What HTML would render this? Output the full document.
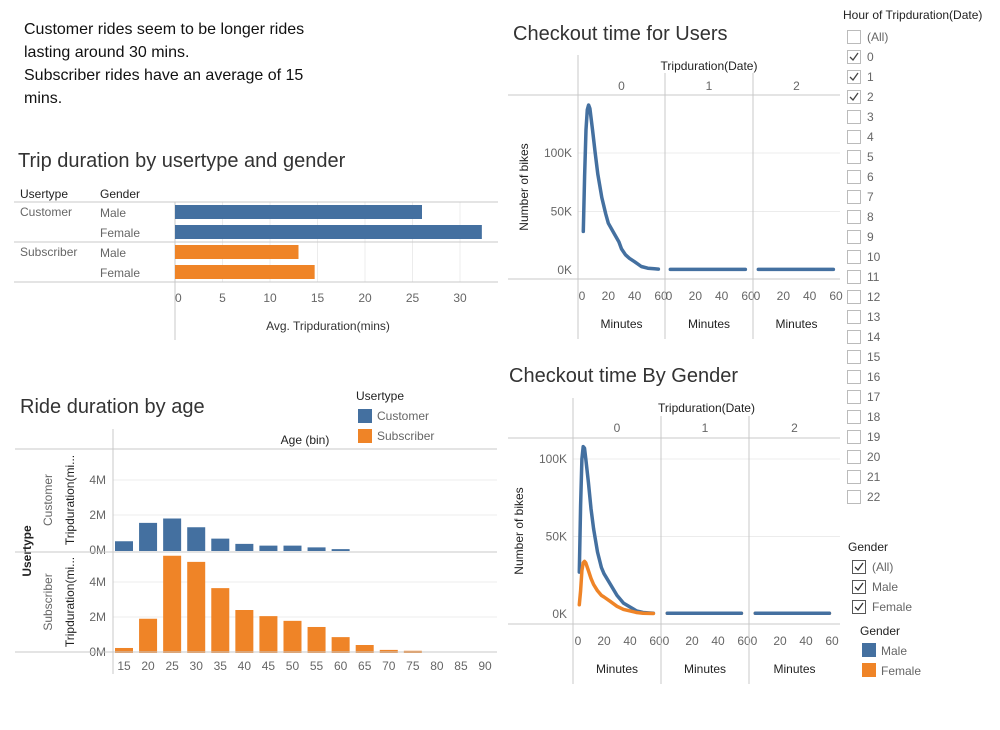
<!DOCTYPE html>
<html><head><meta charset="utf-8"><style>
body{margin:0;background:#fff;width:1000px;height:725px;overflow:hidden;font-family:"Liberation Sans",sans-serif}
svg text{font-family:"Liberation Sans",sans-serif}
</style></head><body>
<svg id="s" width="1000" height="725" xmlns="http://www.w3.org/2000/svg">
<g font-size="16" fill="#111">
<text x="24" y="34">Customer rides seem to be longer rides</text>
<text x="24" y="57">lasting around 30 mins.</text>
<text x="24" y="80">Subscriber rides have an average of 15</text>
<text x="24" y="103">mins.</text>
</g>
<text x="18" y="167" font-size="20" fill="#333">Trip duration by usertype and gender</text>
<text x="20" y="413" font-size="20" fill="#333">Ride duration by age</text>
<text x="513" y="40" font-size="20" fill="#333">Checkout time for Users</text>
<text x="509" y="382" font-size="20" fill="#333">Checkout time By Gender</text>
<g id="g1"></g><g id="g2"></g><g id="g3"></g><g id="g4"></g><g id="g5"></g>
</svg>
<script>
const NS='http://www.w3.org/2000/svg';
function mk(p,t,a,txt){const e=document.createElementNS(NS,t);for(const k in a)e.setAttribute(k,a[k]);if(txt!==undefined)e.textContent=txt;p.appendChild(e);return e;}
const BLUE='#4470a0',ORANGE='#ef8427',GR='#c8c8c8',LG='#ececec',TX='#666';

const c1Users=['Customer','Customer','Subscriber','Subscriber'];
const c1Genders=['Male','Female','Male','Female'];
const c1Values=[26.0,32.3,13.0,14.7];
const c1Ticks=[0,5,10,15,20,25,30];
const ageBins=[15,20,25,30,35,40,45,50,55,60,65,70,75,80,85,90];
const ageCustomer=[0.5,1.55,1.8,1.3,0.65,0.35,0.25,0.25,0.15,0.05,0,0,0,0,0,0];
const ageSubscriber=[0.23,1.9,5.5,5.15,3.65,2.4,2.05,1.78,1.43,0.85,0.4,0.12,0.07,0,0,0];
const ageTicks=[0,2,4];
const minutes=[1,2,3,4,5,6,8,10,12,15,18,20,25,28,30,33,36,40,45,50,55,58];
const usersCount=[33,80,120,137,141,138,120,100,82,62,48,40,30,24,18,13,10,7,3,1.5,1,0.8];
const gMinutes=[1,2,3,4,5,6,8,10,12,15,18,20,25,30,35,40,45,50,58];
const maleCount=[27,70,100,108,107,100,85,68,55,40,30,26,19,12,7,4.5,2,1,0.5];
const femaleCount=[6,15,28,33,34,33,28,23,19,15,12,11,8,5,3,2,1,0.5,0.3];
const kTicks=[0,50,100];
const minTicks=[0,20,40,60];
const panes=['0','1','2'];

(function(){const g=document.getElementById('g1');
const x=v=>175+v*9.5;
mk(g,'text',{x:20,y:198,'font-size':12,fill:'#222'},'Usertype');
mk(g,'text',{x:100,y:198,'font-size':12,fill:'#222'},'Gender');
c1Ticks.forEach(t=>{if(t>0){mk(g,'line',{x1:x(t),x2:x(t),y1:202,y2:282,stroke:LG});}
const tt=mk(g,'text',{x:x(t),y:302,'font-size':12,fill:TX,'text-anchor':t==0?'start':'middle'},t);
});
[202,242,282].forEach(y=>mk(g,'line',{x1:14,x2:498,y1:y,y2:y,stroke:GR}));
mk(g,'line',{x1:175,x2:175,y1:202,y2:340,stroke:GR});
c1Values.forEach((v,i)=>{const y=205+i*20;
const r=mk(g,'rect',{x:175,y:y,width:x(v)-175,height:14,fill:c1Users[i]=='Customer'?BLUE:ORANGE});


mk(g,'text',{x:100,y:y+12,'font-size':12,fill:TX},c1Genders[i]);
if(i%2==0)mk(g,'text',{x:20,y:y+11,'font-size':12,fill:TX},c1Users[i]);});
mk(g,'text',{x:328,y:330,'font-size':12,fill:'#333','text-anchor':'middle'},'Avg. Tripduration(mins)');
})();

(function(){const g=document.getElementById('g2');
const x=i=>124+i*24.07;
mk(g,'text',{x:356,y:400,'font-size':12,fill:'#222'},'Usertype');
mk(g,'rect',{x:358,y:409,width:14,height:14,fill:BLUE});
mk(g,'text',{x:377,y:420,'font-size':12,fill:TX},'Customer');
mk(g,'rect',{x:358,y:429,width:14,height:14,fill:ORANGE});
mk(g,'text',{x:377,y:440,'font-size':12,fill:TX},'Subscriber');
mk(g,'text',{x:305,y:444,'font-size':12,fill:'#222','text-anchor':'middle'},'Age (bin)');
const panesDef=[[ageCustomer,550,BLUE,'Customer'],[ageSubscriber,652,ORANGE,'Subscriber']];
panesDef.forEach(([vals,base,col,name])=>{const y=v=>base-v*17.5;
ageTicks.forEach(t=>{if(t>0)mk(g,'line',{x1:113,x2:497,y1:y(t),y2:y(t),stroke:LG});
mk(g,'text',{x:106,y:y(t)+4,'font-size':12,fill:TX,'text-anchor':'end'},t+'M');});
vals.forEach((v,i)=>{if(v<=0)return;const r=mk(g,'rect',{x:x(i)-9,y:y(v),width:18,height:base+1-y(v),fill:col});

});
const cy=base-50;
mk(g,'text',{x:0,y:0,'font-size':12,fill:TX,'text-anchor':'middle',transform:`translate(52,${cy}) rotate(-90)`},name);
mk(g,'text',{x:0,y:0,'font-size':12,fill:'#222','text-anchor':'middle',transform:`translate(74,${cy}) rotate(-90)`},'Tripduration(mi...');
});
mk(g,'text',{x:0,y:0,'font-size':12,fill:'#222','font-weight':'bold','text-anchor':'middle',transform:'translate(31,551) rotate(-90)'},'Usertype');
[449,552,652].forEach(yy=>mk(g,'line',{x1:15,x2:497,y1:yy,y2:yy,stroke:GR}));
mk(g,'line',{x1:113,x2:113,y1:429,y2:674,stroke:GR});
ageBins.forEach((b,i)=>{const t=mk(g,'text',{x:x(i),y:670,'font-size':12,fill:TX,'text-anchor':'middle'},b);
});
})();

function lineChart(g,opt){
const {top,bot,zero,pxK,paneX,x0,x60,series,ylab,titleY}=opt;
const y=v=>zero-v*pxK;
mk(g,'text',{x:(paneX[0]+paneX[3])/2,y:titleY,'font-size':12,fill:'#222','text-anchor':'middle'},'Tripduration(Date)');
panes.forEach((p,i)=>mk(g,'text',{x:(paneX[i]+paneX[i+1])/2,y:titleY+20,'font-size':12,fill:TX,'text-anchor':'middle'},p));
kTicks.forEach(t=>{if(t>0)mk(g,'line',{x1:paneX[0],x2:paneX[3],y1:y(t),y2:y(t),stroke:LG});
mk(g,'text',{x:paneX[0]-6,y:y(t)+4,'font-size':12,fill:TX,'text-anchor':'end'},t+'K');});
mk(g,'line',{x1:508,x2:paneX[3],y1:top,y2:top,stroke:GR});
mk(g,'line',{x1:508,x2:paneX[3],y1:bot,y2:bot,stroke:GR});
paneX.slice(0,3).forEach((px,i)=>{mk(g,'line',{x1:px,x2:px,y1:i==0?top-40:top-22,y2:bot+60,stroke:GR});
const ox=x0+(px-paneX[0]);const sc=(x60-x0)/60;
minTicks.forEach(m=>mk(g,'text',{x:ox+m*sc,y:bot+21,'font-size':12,fill:TX,'text-anchor':'middle'},m));
mk(g,'text',{x:(px+paneX[i+1])/2,y:bot+49,'font-size':12,fill:'#222','text-anchor':'middle'},'Minutes');
const ser=i==0?series:series.slice().reverse();
ser.forEach(([xs,vs,col,nm])=>{let d;
if(i==0)d=xs.map((m,j)=>(j?'L':'M')+(ox+m*sc).toFixed(1)+','+y(vs[j]).toFixed(1)).join('');
else d='M'+(ox+1*sc)+','+y(0.5)+'L'+(ox+58*sc)+','+y(0.5);
const pth=mk(g,'path',{d:d,fill:'none',stroke:col,'stroke-width':3.5,'stroke-linejoin':'round','stroke-linecap':'round'});

});
});
mk(g,'text',{x:0,y:0,'font-size':12,fill:'#222','text-anchor':'middle',transform:`translate(${paneX[0]-50},${(top+bot)/2}) rotate(-90)`},ylab);
}
lineChart(document.getElementById('g3'),{top:95,bot:279,zero:270,pxK:58.5/50,paneX:[578,665,753,840],x0:582,x60:661,ylab:'Number of bikes',titleY:70,
series:[[minutes,usersCount,BLUE,'users']]});
lineChart(document.getElementById('g4'),{top:438,bot:624,zero:614,pxK:77.5/50,paneX:[573,661,749,840],x0:578,x60:656,ylab:'Number of bikes',titleY:412,
series:[[gMinutes,maleCount,BLUE,'male'],[gMinutes,femaleCount,ORANGE,'female']]});

(function(){const g=document.getElementById('g5');
mk(g,'text',{x:843,y:19,'font-size':12,fill:'#222'},'Hour of Tripduration(Date)');
const items=['(All)'];for(let h=0;h<=22;h++)items.push(String(h));
items.forEach((it,i)=>{const yy=30+i*20;
const b=mk(g,'rect',{x:847.5,y:yy+.5,width:13,height:13,fill:'#fff',stroke:'#bbb'});

if(['0','1','2'].includes(it))mk(g,'path',{d:`M850,${yy+7}l3,3l5,-7`,fill:'none',stroke:'#444','stroke-width':1.3});
mk(g,'text',{x:867,y:yy+11,'font-size':12,fill:TX},it);});
mk(g,'text',{x:848,y:551,'font-size':12,fill:'#222'},'Gender');
['(All)','Male','Female'].forEach((it,i)=>{const yy=560+i*20;
const b=mk(g,'rect',{x:852.5,y:yy+.5,width:13,height:13,fill:'#fff',stroke:'#555'});

mk(g,'path',{d:`M855,${yy+7}l3,3l5,-7`,fill:'none',stroke:'#333','stroke-width':1.3});
mk(g,'text',{x:872,y:yy+11,'font-size':12,fill:TX},it);});
mk(g,'text',{x:860,y:635,'font-size':12,fill:'#222'},'Gender');
mk(g,'rect',{x:862,y:643,width:14,height:14,fill:BLUE});
mk(g,'text',{x:881,y:655,'font-size':12,fill:TX},'Male');
mk(g,'rect',{x:862,y:663,width:14,height:14,fill:ORANGE});
mk(g,'text',{x:881,y:675,'font-size':12,fill:TX},'Female');
})();
</script>
</body></html>
